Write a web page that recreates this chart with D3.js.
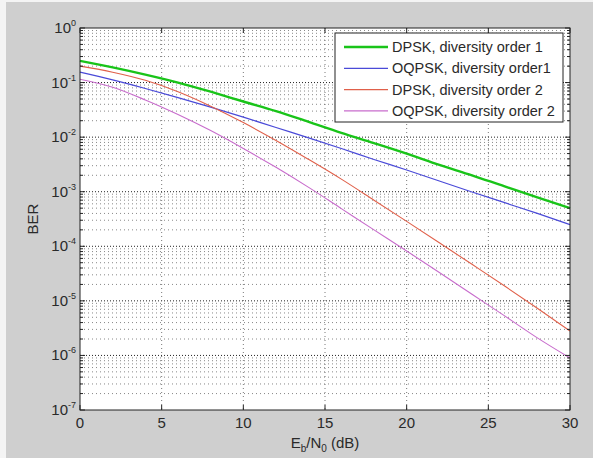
<!DOCTYPE html>
<html><head><meta charset="utf-8">
<script src="https://cdn.jsdelivr.net/npm/d3@7"></script>
<style>
html,body{margin:0;padding:0;background:#fff;}
text{font-family:"Liberation Sans",Arial,sans-serif;fill:#2a2a2a;}
</style></head>
<body>
<svg id="chart" width="593" height="458"></svg>
<script>
// ---- data ----
const ebn0 = [0,2,4,6,8,10,12,14,16,18,20,22,24,26,28,30];
const dpskDiv1  = [0.25,0.19,0.14,0.10,0.068,0.045,0.030,0.019,0.012,0.0078,0.0050,0.0031,0.0020,0.00125,0.00079,0.0005];
const oqpskDiv1 = [0.155,0.112,0.078,0.053,0.0355,0.0233,0.0150,0.0097,0.0062,0.0039,0.0025,0.00157,0.00099,0.00063,0.0004,0.00025];
const dpskDiv2  = [0.20,0.155,0.11,0.068,0.037,0.0185,0.0087,0.0039,0.0017,0.00070,0.000286,0.000116,0.0000467,0.0000187,0.0000073,0.0000028];
const oqpskDiv2 = [0.115,0.082,0.048,0.026,0.0132,0.0062,0.0028,0.0012,0.00049,0.00020,0.000082,0.000033,0.0000132,0.0000053,0.0000021,0.0000009];
const seriesNames = ["DPSK, diversity order 1","OQPSK, diversity order1","DPSK, diversity order 2","OQPSK, diversity order 2"];
const seriesColors = ["#19c419","#4a4ad8","#e0604a","#c86ccc"];
const seriesWidths = [2.4,1.2,1.1,1.1];
const xTicks = [0,5,10,15,20,25,30];
const yTickExps = [0,-1,-2,-3,-4,-5,-6,-7];
const xLabelParts = ["E","b","/N","0"," (dB)"];
const yLabel = "BER";

const allSeries = [dpskDiv1, oqpskDiv1, dpskDiv2, oqpskDiv2];

const svg = d3.select("#chart");
const W = 593, H = 458;
const L = 80, R = 570, T = 28, B = 410;

// figure background
svg.append("rect").attr("x",0).attr("y",0).attr("width",W).attr("height",H).attr("fill","#f4f4f4");
svg.append("rect").attr("x",6).attr("y",2).attr("width",W-6).attr("height",H-2).attr("fill","#cfcfcf");
svg.append("rect").attr("x",L).attr("y",T).attr("width",R-L).attr("height",B-T).attr("fill","#fff");

const x = d3.scaleLinear().domain([0,30]).range([L,R]);
const y = d3.scaleLog().domain([1e-7,1]).range([B,T]);

// minor horizontal grid
const minorVals = [];
for (let e=-7; e<0; e++) for (let m=2; m<=9; m++) minorVals.push(m*Math.pow(10,e));
const g = svg.append("g");
g.selectAll("line.minor").data(minorVals).enter().append("line")
  .attr("x1",L).attr("x2",R).attr("y1",d=>y(d)).attr("y2",d=>y(d))
  .attr("stroke","#6a6a6a").attr("stroke-width",0.8).attr("stroke-dasharray","1,3");
// major horizontal grid
g.selectAll("line.major").data(yTickExps.slice(1,-1)).enter().append("line")
  .attr("x1",L).attr("x2",R).attr("y1",d=>y(Math.pow(10,d))).attr("y2",d=>y(Math.pow(10,d)))
  .attr("stroke","#222").attr("stroke-width",1).attr("stroke-dasharray","1,2");
// vertical grid
g.selectAll("line.v").data(xTicks.slice(1,-1)).enter().append("line")
  .attr("y1",T).attr("y2",B).attr("x1",d=>x(d)).attr("x2",d=>x(d))
  .attr("stroke","#555").attr("stroke-width",0.8).attr("stroke-dasharray","1,3");

// series
const line = d3.line().x((d,i)=>x(ebn0[i])).y(d=>y(d)).curve(d3.curveMonotoneX);
const order = [1,2,3,0];
order.forEach(k=>{
  svg.append("path").attr("d",line(allSeries[k])).attr("fill","none")
    .attr("stroke",seriesColors[k]).attr("stroke-width",seriesWidths[k]);
});

// axes box
svg.append("rect").attr("x",L).attr("y",T).attr("width",R-L).attr("height",B-T)
  .attr("fill","none").attr("stroke","#222").attr("stroke-width",1);

// ticks
const tk = svg.append("g").attr("stroke","#222").attr("stroke-width",1);
xTicks.forEach(v=>{
  tk.append("line").attr("x1",x(v)).attr("x2",x(v)).attr("y1",B).attr("y2",B-5);
  tk.append("line").attr("x1",x(v)).attr("x2",x(v)).attr("y1",T).attr("y2",T+5);
});
yTickExps.forEach(e=>{
  const yy = y(Math.pow(10,e));
  tk.append("line").attr("x1",L).attr("x2",L+5).attr("y1",yy).attr("y2",yy);
  tk.append("line").attr("x1",R).attr("x2",R-5).attr("y1",yy).attr("y2",yy);
});
minorVals.forEach(v=>{
  const yy = y(v);
  tk.append("line").attr("x1",L).attr("x2",L+3).attr("y1",yy).attr("y2",yy);
  tk.append("line").attr("x1",R).attr("x2",R-3).attr("y1",yy).attr("y2",yy);
});

// x tick labels
svg.selectAll("text.xt").data(xTicks).enter().append("text")
  .attr("x",d=>x(d)).attr("y",B+18).attr("text-anchor","middle")
  .attr("font-size",15).text(d=>d);
// y tick labels
yTickExps.forEach(e=>{
  const t = svg.append("text").attr("x",L-4).attr("y",y(Math.pow(10,e))+5)
    .attr("text-anchor","end").attr("font-size",15);
  t.append("tspan").text("10");
  t.append("tspan").attr("dy",-7).attr("font-size",9).text(e===0?"0":("-"+(-e)));
});

// x label
const xl = svg.append("text").attr("x",(L+R)/2).attr("y",448).attr("text-anchor","middle").attr("font-size",15);
xl.append("tspan").text(xLabelParts[0]);
xl.append("tspan").attr("dy",4).attr("font-size",10).text(xLabelParts[1]);
xl.append("tspan").attr("dy",-4).text(xLabelParts[2]);
xl.append("tspan").attr("dy",4).attr("font-size",10).text(xLabelParts[3]);
xl.append("tspan").attr("dy",-4).text(xLabelParts[4]);

// y label
svg.append("text").attr("transform","translate(38,219) rotate(-90)")
  .attr("text-anchor","middle").attr("font-size",15).text(yLabel);

// legend
const lg = svg.append("g");
lg.append("rect").attr("x",335).attr("y",33).attr("width",228).attr("height",89)
  .attr("fill","#fff").attr("stroke","#222").attr("stroke-width",1);
seriesNames.forEach((n,i)=>{
  const yy = 47 + i*21.3;
  lg.append("line").attr("x1",344).attr("x2",388).attr("y1",yy).attr("y2",yy)
    .attr("stroke",seriesColors[i]).attr("stroke-width",seriesWidths[i]);
  lg.append("text").attr("x",392).attr("y",yy+5).attr("font-size",14.5).text(n);
});
</script>
</body></html>
